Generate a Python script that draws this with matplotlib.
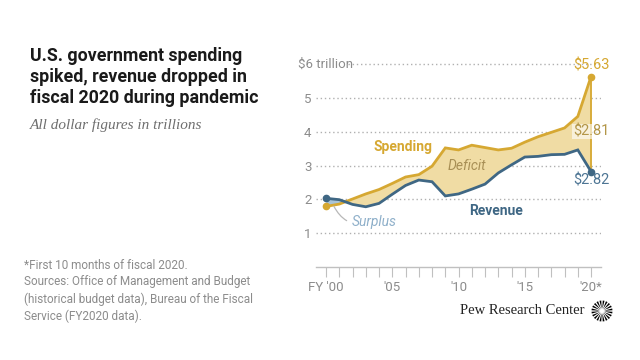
import numpy as np
import matplotlib.pyplot as plt
from matplotlib.patches import Polygon

# fiscal years and values ($ trillions)
years = np.arange(2000, 2021)
spending = [1.79, 1.86, 2.01, 2.16, 2.29, 2.47, 2.66, 2.73, 2.98, 3.52, 3.46,
            3.60, 3.53, 3.46, 3.51, 3.69, 3.85, 3.98, 4.11, 4.45, 5.63]
revenue = [2.03, 1.99, 1.85, 1.78, 1.88, 2.15, 2.41, 2.57, 2.52, 2.10, 2.16,
           2.30, 2.45, 2.78, 3.02, 3.25, 3.27, 3.32, 3.33, 3.46, 2.82]
ytick_vals = [1, 2, 3, 4, 5]
xtick_vals = [2000, 2005, 2010, 2015, 2020]
xtick_labels = ["FY '00", "'05", "'10", "'15", "'20*"]

gold = '#d6a832'
blue = '#3f6784'
fill_gold = '#f0dca4'
fill_blue = '#a9c4d8'
gray = '#8c8c8c'

plt.rcParams['font.family'] = ['Roboto', 'DejaVu Sans']

fig = plt.figure(figsize=(6.4, 3.6), dpi=100)
W, H = 640, 360
ax = fig.add_axes([315.7 / W, 1 - 267 / H, (601 - 315.7) / W, (267 - 64) / H])
ax.set_xlim(1999.22, 2020.75)
ax.set_ylim(0, 6)

sp = np.array(spending)
rv = np.array(revenue)
ax.fill_between(years, sp, rv, where=sp >= rv, interpolate=True,
                color=fill_gold, lw=0, zorder=1)
ax.fill_between(years, sp, rv, where=rv > sp, interpolate=True,
                color=fill_blue, lw=0, zorder=1)

# gridlines
for v in ytick_vals:
    ax.axhline(v, color='#b0b0b0', lw=1, ls=(0, (1, 2)), zorder=0)
ax.plot([1999.22 + (348 - 315.7) / 13.27, 2020.75], [6, 6], color='#b0b0b0',
        lw=1, ls=(0, (1, 2)), zorder=0, clip_on=False)

ax.plot([2020, 2020], [revenue[-1], spending[-1]], color=gold, lw=1.3, zorder=2)
ax.plot(years, spending, color=gold, lw=2, zorder=3, solid_joinstyle='miter')
ax.plot(years, revenue, color=blue, lw=2, zorder=3, solid_joinstyle='miter')
ax.plot([years[0], years[-1]], [spending[0], spending[-1]], 'o', color=gold,
        ms=4.5, zorder=4, clip_on=False)
ax.plot([years[0], years[-1]], [revenue[0], revenue[-1]], 'o', color=blue,
        ms=4.5, zorder=4, clip_on=False)

for s in ['top', 'right', 'left']:
    ax.spines[s].set_visible(False)
ax.spines['bottom'].set_color('#c0c0c0')
ax.spines['bottom'].set_linewidth(1)

ax.set_yticks(ytick_vals)
ax.set_yticklabels([str(v) for v in ytick_vals])
ax.tick_params(axis='y', length=0, pad=3, labelsize=9.5, labelcolor=gray)
ax.set_xticks(xtick_vals)
ax.set_xticklabels(xtick_labels)
ax.set_xticks(years, minor=True)
ax.tick_params(axis='x', which='both', length=7, width=0.8, color='#c0c0c0',
               labelsize=9.5, labelcolor=gray, pad=3)
ax.text(298 / W, 1 - 64 / H, '$6 trillion', transform=fig.transFigure,
        ha='left', va='center', fontsize=9.5, color=gray)

# labels
ax.text(2020, 5.97, '$5.63', ha='center', va='center', fontsize=10.5, color=gold)
ax.text(2020, 4.0, '$2.81', ha='center', va='center', fontsize=10.5,
        color='#b39648', zorder=5,
        bbox=dict(facecolor='white', edgecolor='none', pad=0.3, alpha=0.6))
ax.text(2020, 2.56, '$2.82', ha='center', va='center', fontsize=10.5, color='#4d7594')
ax.text(2005.8, 3.56, 'Spending', ha='center', va='center', fontsize=10,
        fontweight='bold', color=gold)
ax.text(2010.6, 3.0, 'Deficit', ha='center', va='center', fontsize=10,
        style='italic', color='#a88f55')
ax.text(2012.8, 1.65, 'Revenue', ha='center', va='center', fontsize=10,
        fontweight='bold', color=blue)
ax.annotate('Surplus', xy=(2000.5, 1.87), xytext=(2001.95, 1.34),
            ha='left', va='center', fontsize=10, style='italic', color='#8fb0ca',
            arrowprops=dict(arrowstyle='-', color='#b8b8b8', lw=0.9,
                            connectionstyle='arc3,rad=-0.45', shrinkA=2, shrinkB=2))

# title and notes
fig.text(30 / W, 1 - 47 / H, 'U.S. government spending\nspiked, revenue dropped in\n'
         'fiscal 2020 during pandemic', ha='left', va='top', fontsize=12.8,
         fontweight='bold', color='#1a1a1a', linespacing=1.2)
fig.text(30 / W, 1 - 125 / H, 'All dollar figures in trillions', ha='left',
         va='center', fontsize=11, style='italic', color='#6e6e6e',
         family='Liberation Serif')
fig.text(24 / W, 1 - 259 / H, '*First 10 months of fiscal 2020.\n'
         'Sources: Office of Management and Budget\n'
         '(historical budget data), Bureau of the Fiscal\n'
         'Service (FY2020 data).', ha='left', va='top', fontsize=8.5,
         color=gray, linespacing=1.35)
fig.text(585 / W, 1 - 311 / H, 'Pew Research Center', ha='right', va='center',
         fontsize=10.5, color='#222222', family='Liberation Serif')

# sunburst logo
cx, cy, r = 602, 311, 10.5
n = 20
for i in range(n):
    a = 2 * np.pi * (i + 0.5) / n
    r0 = 2.0
    half = np.pi / n * 0.55
    pts = [(cx + r0 * np.cos(a), cy + r0 * np.sin(a)),
           (cx + r * np.cos(a - half), cy + r * np.sin(a - half)),
           (cx + r * np.cos(a + half), cy + r * np.sin(a + half))]
    fig.add_artist(Polygon([(x / W, 1 - y / H) for x, y in pts], closed=True,
                           transform=fig.transFigure, facecolor='black',
                           edgecolor='none'))

fig.savefig('out.png', dpi=100)
